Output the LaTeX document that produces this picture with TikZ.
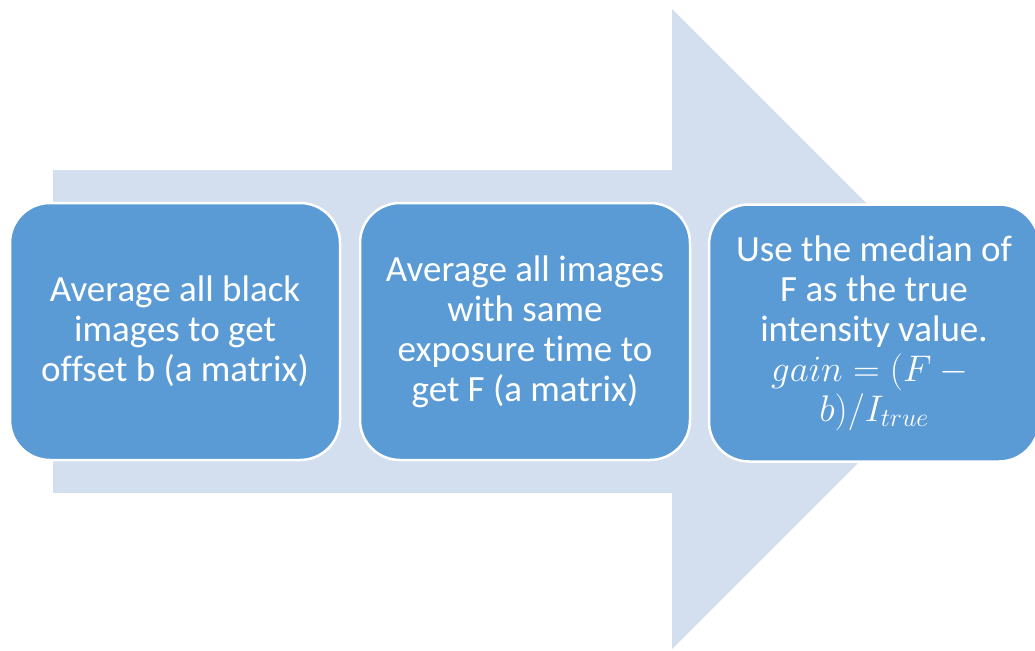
\documentclass[tikz,border=0pt]{standalone}
\usepackage{fix-cm}
\usepackage{fontspec}
\setmainfont[RawFeature=-liga]{Carlito}
\definecolor{arrowfill}{HTML}{D3DEEF}
\definecolor{boxfill}{HTML}{5B9BD5}
\tikzset{
  stepbox/.style={draw=white, line width=2.5pt, fill=boxfill, rounded corners=40pt,
    minimum width=330pt, minimum height=257pt, inner sep=0pt, text=white,
    align=center, font=\fontsize{37}{40}\selectfont},
}
\begin{document}
\begin{tikzpicture}[x=1pt,y=-1pt]
\useasboundingbox (0,0) rectangle (1035,650);
\clip (0,0) rectangle (1035,650);
\fill[arrowfill] (53,170) -- (672,170) -- (672,9) -- (992,329) -- (672,649) -- (672,493) -- (53,493) -- cycle;
\node[stepbox] (b1) at (175,331.5) {Average all black\\images to get\\offset b (a matrix)};
\node[stepbox] (b2) at (525,331.5) {Average all images\\with same\\exposure time to\\get F (a matrix)};
\node[stepbox] (b3) at (874,333) {Use the median of\\F as the true\\intensity value.\\$gain=(F-{}$\\$b)/I_{true}$};
\end{tikzpicture}
\end{document}
